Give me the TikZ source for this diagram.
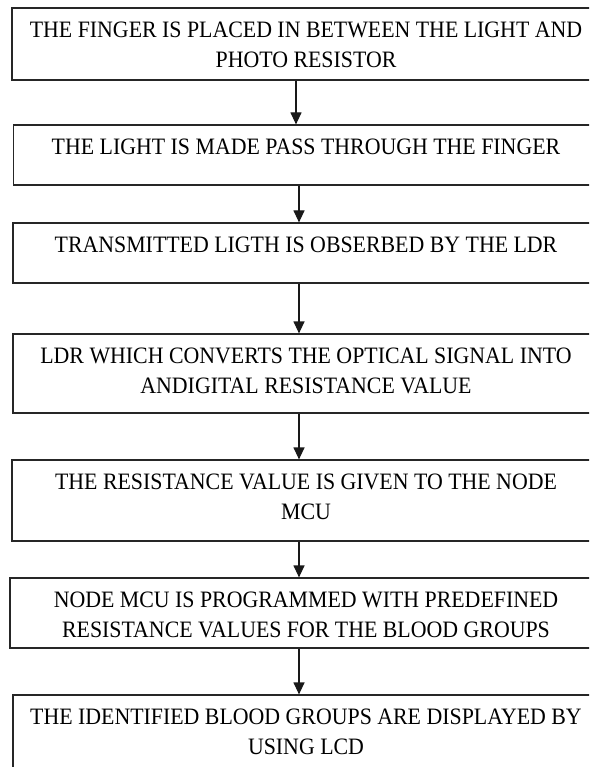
\documentclass[tikz,border=0pt]{standalone}
\usepackage{fontspec}
\setmainfont{Liberation Serif}[FakeStretch=0.93]
\usetikzlibrary{arrows.meta}
\begin{document}
\begin{tikzpicture}[x=1pt,y=-1pt,
  stepbox/.style={draw=black!85, line width=1.2pt, rectangle, inner sep=0pt},
  steptext/.style={anchor=north, inner sep=0pt, align=center,
    font={\fontsize{23.5}{30}\selectfont}},
  flow/.style={draw=black!90, line width=1.2pt, -{Triangle[width=11pt,length=12pt]}}]
  \useasboundingbox (0,0) rectangle (589,767);
  \clip (0,0) rectangle (589,767);
  % boxes: left edge, top, bottom (right edges run past the page)
  \foreach \n/\l/\t/\b in {1/12/8/80, 2/13.5/125/185, 3/13/223/283, 4/13/334/413,
                           5/12/460/541, 6/10/578/648, 7/13/695/790}{
    \node[stepbox, minimum width={600-\l}, minimum height={\b-\t}]
      (b\n) at ({(\l+600)/2},{(\t+\b)/2}) {};
  }
  % step texts
  \node[steptext] (t1) at ([yshift=-14pt]b1.north -| 306,0)
    {THE FINGER IS PLACED IN BETWEEN THE LIGHT AND\\PHOTO RESISTOR};
  \node[steptext] (t2) at ([yshift=-14pt]b2.north -| 306,0)
    {THE LIGHT IS MADE PASS THROUGH THE FINGER};
  \node[steptext] (t3) at ([yshift=-14pt]b3.north -| 306,0)
    {TRANSMITTED LIGTH IS OBSERBED BY THE LDR};
  \node[steptext] (t4) at ([yshift=-14pt]b4.north -| 306,0)
    {LDR WHICH CONVERTS THE OPTICAL SIGNAL INTO\\ANDIGITAL RESISTANCE VALUE};
  \node[steptext] (t5) at ([yshift=-14pt]b5.north -| 306,0)
    {THE RESISTANCE VALUE IS GIVEN TO THE NODE\\MCU};
  \node[steptext] (t6) at ([yshift=-14pt]b6.north -| 306,0)
    {NODE MCU IS PROGRAMMED WITH PREDEFINED\\RESISTANCE VALUES FOR THE BLOOD GROUPS};
  \node[steptext] (t7) at ([yshift=-14pt]b7.north -| 306,0)
    {THE IDENTIFIED BLOOD GROUPS ARE DISPLAYED BY\\USING LCD};
  % connectors
  \coordinate (ax1) at (296,0);
  \coordinate (ax) at (299,0);
  \draw[flow] (b1.south -| ax1) -- (b2.north -| ax1);
  \foreach \a/\b in {2/3,3/4,4/5,5/6,6/7}{
    \draw[flow] (b\a.south -| ax) -- (b\b.north -| ax);
  }
\end{tikzpicture}
\end{document}
